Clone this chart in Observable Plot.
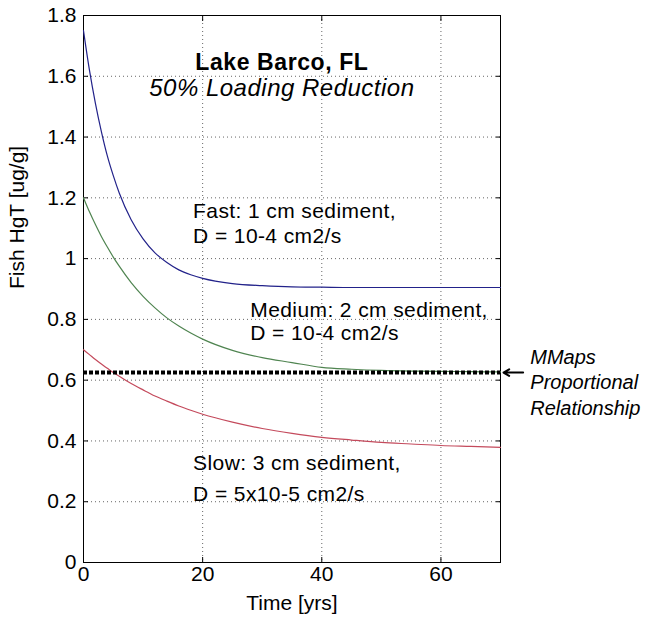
<!DOCTYPE html>
<html>
<head>
<meta charset="utf-8">
<script src="https://cdn.jsdelivr.net/npm/d3@7"></script>
<script src="https://cdn.jsdelivr.net/npm/@observablehq/plot@0.6"></script>
<style>
  html, body { margin: 0; padding: 0; background: #fff; }
  #chart { width: 650px; height: 621px; }
</style>
</head>
<body>
<div id="chart"></div>
<script>
// ---- data ----
const years  = [0, 1, 2, 3, 4, 5, 6, 8, 10, 12, 14, 16, 18, 20, 25, 30, 35, 40, 45, 50, 55, 60, 65, 70];
const fast   = [1.750, 1.620, 1.511, 1.418, 1.338, 1.273, 1.216, 1.128, 1.065, 1.019, 0.987, 0.963, 0.947, 0.935, 0.918, 0.911, 0.907, 0.906, 0.905, 0.905, 0.905, 0.905, 0.905, 0.905];
const medium = [1.200, 1.154, 1.112, 1.073, 1.038, 1.005, 0.975, 0.921, 0.876, 0.838, 0.805, 0.778, 0.755, 0.735, 0.698, 0.674, 0.658, 0.642, 0.636, 0.632, 0.630, 0.629, 0.628, 0.627];
const slow   = [0.700, 0.684, 0.668, 0.653, 0.639, 0.625, 0.613, 0.589, 0.568, 0.548, 0.531, 0.515, 0.501, 0.488, 0.462, 0.441, 0.425, 0.412, 0.403, 0.395, 0.390, 0.385, 0.382, 0.379];
const mmapsLevel = [0.625];
const xTicks = [0, 20, 40, 60];
const xTickLabels = ["0", "20", "40", "60"];
const yTicks = [0, 0.2, 0.4, 0.6, 0.8, 1.0, 1.2, 1.4, 1.6, 1.8];
const yTickLabels = ["0", "0.2", "0.4", "0.6", "0.8", "1", "1.2", "1.4", "1.6", "1.8"];
const xGrid = [20, 40, 60];
const yGrid = [0.2, 0.4, 0.6, 0.8, 1.0, 1.2, 1.4, 1.6];

const rows = (vals, name) => years.map((t, i) => ({t, v: vals[i], name}));
const series = [...rows(fast, "Fast"), ...rows(medium, "Medium"), ...rows(slow, "Slow")];
const colors = {Fast: "#22228a", Medium: "#4f8450", Slow: "#c44a5c"};

const FONT = "'Liberation Sans', Arial, sans-serif";
const txt = {fontFamily: FONT, fontSize: 21, fill: "#000", textAnchor: "start", lineAnchor: "middle"};

const chart = Plot.plot({
  width: 650,
  height: 621,
  marginLeft: 83,
  marginRight: 150,
  marginTop: 15,
  marginBottom: 59,
  style: {fontFamily: FONT, fontSize: "21px", background: "#fff", color: "#000", overflow: "visible"},
  x: {domain: [0, 70]},
  y: {domain: [0, 1.8]},
  marks: [
    Plot.gridX(xGrid, {stroke: "#333", strokeOpacity: 0.75, strokeDasharray: "1,3"}),
    Plot.gridY(yGrid, {stroke: "#333", strokeOpacity: 0.75, strokeDasharray: "1,3"}),
    Plot.axisX(xTicks, {anchor: "bottom", tickSize: -5, tickPadding: 9, tickFormat: (d, i) => xTickLabels[i], label: null, fontSize: 21}),
    Plot.axisX(xTicks, {anchor: "top", tickSize: -5, tickFormat: () => "", label: null}),
    Plot.axisY(yTicks, {anchor: "left", tickSize: -5, tickPadding: 12, tickFormat: (d, i) => yTickLabels[i], label: null, fontSize: 21}),
    Plot.axisY(yTicks, {anchor: "right", tickSize: -5, tickFormat: () => "", label: null}),
    Plot.frame({stroke: "#000", strokeWidth: 1}),
    Plot.line(series, {x: "t", y: "v", z: "name", stroke: d => colors[d.name], strokeWidth: 1.2, curve: "monotone-x"}),
    Plot.ruleY(mmapsLevel, {x1: 0, x2: 70, stroke: "#000", strokeWidth: 4, strokeDasharray: "4,2"}),
    Plot.arrow(mmapsLevel, {x1: 73.8, x2: 70.5, y1: d => d, y2: d => d, stroke: "#000", strokeWidth: 2, headLength: 9, bend: 0}),
    // titles
    Plot.text(["Lake Barco, FL"], {...txt, x: 33.3, y: 1.645, textAnchor: "middle", fontWeight: "bold", fontSize: 23}),
    Plot.text(["50% Loading Reduction"], {...txt, x: 33.3, y: 1.56, textAnchor: "middle", fontStyle: "italic", fontSize: 24}),
    // annotations
    Plot.text(["Fast: 1 cm sediment,"], {...txt, x: 18.4, y: 1.155}),
    Plot.text(["D = 10-4 cm2/s"], {...txt, x: 18.4, y: 1.073}),
    Plot.text(["Medium: 2 cm sediment,"], {...txt, x: 28.0, y: 0.829}),
    Plot.text(["D = 10-4 cm2/s"], {...txt, x: 28.0, y: 0.753}),
    Plot.text(["Slow: 3 cm sediment,"], {...txt, x: 18.4, y: 0.325}),
    Plot.text(["D = 5x10-5 cm2/s"], {...txt, x: 18.4, y: 0.224}),
    Plot.text(["MMaps"], {...txt, x: 75.0, y: 0.675, fontStyle: "italic", fontSize: 20}),
    Plot.text(["Proportional"], {...txt, x: 75.0, y: 0.592, fontStyle: "italic", fontSize: 20}),
    Plot.text(["Relationship"], {...txt, x: 75.0, y: 0.508, fontStyle: "italic", fontSize: 20}),
    // axis titles
    Plot.text(["Time [yrs]"], {frameAnchor: "bottom", dy: 47, fontFamily: FONT, fontSize: 21, fill: "#000"}),
    Plot.text(["Fish HgT [ug/g]"], {frameAnchor: "left", dx: -66, rotate: -90, fontFamily: FONT, fontSize: 21, fill: "#000"})
  ]
});

// widen some labels slightly, as in the reference
const spacing = {
  "Lake Barco, FL": 0.6,
  "50% Loading Reduction": 0.5,
  "Fast: 1 cm sediment,": 0.4,
  "Medium: 2 cm sediment,": 0.4,
  "Slow: 3 cm sediment,": 0.4,
  "D = 10-4 cm2/s": 0.4,
  "D = 5x10-5 cm2/s": 0.4
};
chart.querySelectorAll("text").forEach(t => {
  const s = spacing[t.textContent];
  if (s) t.setAttribute("letter-spacing", s);
});
document.getElementById("chart").appendChild(chart);
</script>
</body>
</html>
